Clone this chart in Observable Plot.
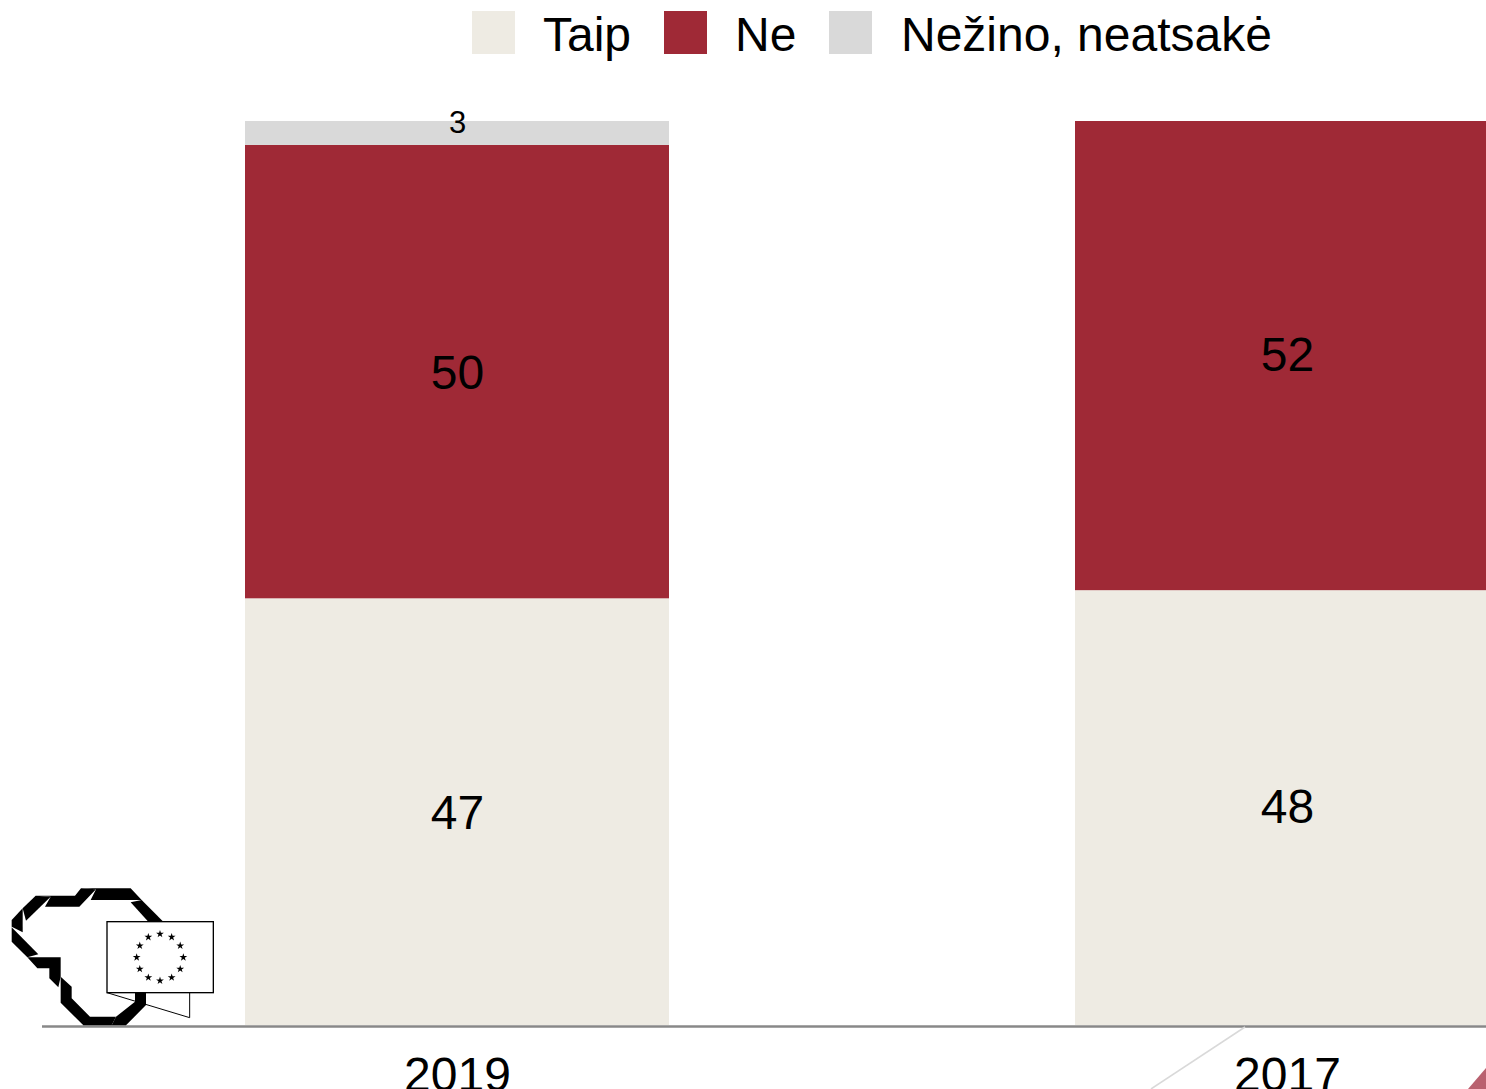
<!DOCTYPE html>
<html lang="lt">
<head>
<meta charset="utf-8">
<script src="https://cdn.jsdelivr.net/npm/d3@7"></script>
<script src="https://cdn.jsdelivr.net/npm/@observablehq/plot@0.6"></script>
<style>
html,body{margin:0;padding:0;background:#fff;overflow:hidden;width:1486px;height:1089px;}
#wrap{position:relative;width:1486px;height:1089px;overflow:hidden;font-family:"Liberation Sans",Arial,sans-serif;}
#chart,#chart svg{position:absolute;left:0;top:0;max-width:none;}
.sw{position:absolute;top:11px;width:43px;height:43px;}
.lb{position:absolute;top:6px;font-size:48px;line-height:58px;color:#000;white-space:nowrap;}
#deco{position:absolute;left:0;top:0;pointer-events:none;}
</style>
</head>
<body>
<div id="wrap"><div id="chart"></div><div id="legend"></div>
<svg id="deco" width="1486" height="1089" xmlns="http://www.w3.org/2000/svg">
  <line x1="1245" y1="1027" x2="1151" y2="1089" stroke="#d9d9d9" stroke-width="1.5"/>
  <polygon points="1486,1068 1468,1089 1486,1089" fill="#b9616f"/>
  <g id="logo" transform="translate(0,870) scale(0.33333)">
    <g fill="#000">
      <polygon points="243,55 392,55 425,90 272,90 288,58"/>
      <polygon points="107,77 225,77 243,55 288,58 238,110 135,110 152,80"/>
      <polygon points="392,97 425,90 490,155 445,155"/>
      <polygon points="107,77 152,80 78,152 68,115"/>
      <polygon points="35,150 68,115 68,187 35,170"/>
      <polygon points="35,172 115,253 82,262 35,215"/>
      <polygon points="82,262 182,262 182,320 175,352 148,325 148,295 112,295"/>
      <polygon points="182,320 215,350 215,385 270,440 348,440 335,466 250,466 182,398"/>
      <polygon points="405,368 438,368 438,405 378,466 335,466 348,440 405,395"/>
    </g>
    <polyline points="321,368 569,443 569,368" fill="none" stroke="#000" stroke-width="3"/>
    <rect x="321" y="155" width="319" height="213" fill="#fff" stroke="#000" stroke-width="4"/>
    <g id="stars"></g>
  </g>
</svg>
</div>
<script>
const years = ["2019", "2017"];
const categories = ["Taip", "Ne", "Nežino, neatsakė"];
const taip = [47.2, 48.1];
const ne = [50.15, 51.9];
const nezino = [2.65, 0];
const colors = ["#eeebe3", "#9f2936", "#d9d9d9"];
const legendSwatchLeft = [472, 664, 829];
const legendTextLeft = [543, 735, 901];

const rows = years.flatMap((year, i) => [
  {year, cat: categories[0], value: taip[i]},
  {year, cat: categories[1], value: ne[i]},
  {year, cat: categories[2], value: nezino[i]}
]).filter(d => d.value > 0);

const stack = {x: "year", y: "value", z: "cat", order: categories};
const label = d => String(Math.round(d.value));

const plot = Plot.plot({
  width: 1486, height: 1089,
  marginTop: 121, marginBottom: 64, marginLeft: 42, marginRight: 0,
  style: {fontFamily: '"Liberation Sans", Arial, sans-serif', background: "transparent", overflow: "hidden"},
  x: {domain: years, range: [42, 1702], paddingInner: 0.4892, paddingOuter: 0.2446, align: 0.5, label: null},
  y: {domain: [0, 100], range: [1025, 121], axis: null},
  color: {domain: categories, range: colors},
  marks: [
    Plot.barY(rows, {...stack, fill: "cat"}),
    Plot.text(rows, Plot.stackY({...stack, text: d => d.value >= 10 && d.year === years[0] ? label(d) : null, fill: "#000", fontSize: 48, dy: 1})),
    Plot.text(rows, Plot.stackY({...stack, text: d => d.value >= 10 && d.year === years[1] ? label(d) : null, fill: "#000", fontSize: 48})),
    Plot.text(rows, Plot.stackY({...stack, text: d => d.value < 10 ? label(d) : null, fill: "#000", fontSize: 31, dy: -10})),
    Plot.ruleY([0], {stroke: "#888888", strokeWidth: 2.4, dy: 1}),
    Plot.axisX({fontSize: 48, tickSize: 0, tickPadding: 31, color: "#000", label: null})
  ]
});
document.getElementById("chart").appendChild(plot);

const legend = document.getElementById("legend");
categories.forEach((c, i) => {
  const s = document.createElement("div");
  s.className = "sw"; s.style.left = legendSwatchLeft[i] + "px"; s.style.background = colors[i];
  const t = document.createElement("div");
  t.className = "lb"; t.style.left = legendTextLeft[i] + "px"; t.textContent = c;
  legend.append(s, t);
});

const starsG = d3.select("#stars");
const star = d3.symbol(d3.symbolStar, 170)();
d3.range(12).forEach(k => {
  const a = k * Math.PI / 6;
  starsG.append("path").attr("d", star).attr("fill", "#000")
    .attr("transform", `translate(${480 + 70 * Math.sin(a)},${262 - 70 * Math.cos(a)})`);
});
</script>
</body>
</html>
